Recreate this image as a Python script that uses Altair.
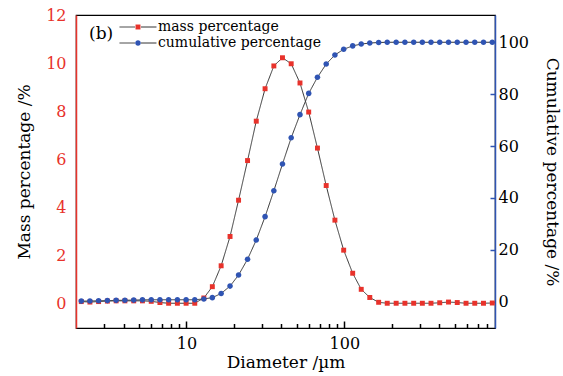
import altair as alt
import pandas as pd

# ---------------- data ----------------
diameter = [2.16, 2.45, 2.78, 3.16, 3.59, 4.08, 4.64, 5.27, 5.99, 6.80,
            7.72, 8.77, 9.96, 11.3, 12.9, 14.6, 16.6, 18.9, 21.4, 24.4,
            27.7, 31.5, 35.8, 40.6, 46.1, 52.4, 59.5, 67.6, 76.8, 87.2,
            99.1, 113, 128, 145, 165, 187, 213, 242, 275, 312,
            354, 402, 457, 519, 590, 670, 761, 865]

mass_pct = [0.07, 0.05, 0.07, 0.09, 0.10, 0.10, 0.10, 0.10, 0.08, 0.03,
            0.00, 0.00, 0.00, 0.00, 0.22, 0.69, 1.56, 2.78, 4.29, 5.94,
            7.58, 8.93, 9.88, 10.22, 9.97, 9.17, 7.96, 6.46, 4.90, 3.46,
            2.21, 1.25, 0.58, 0.24, 0.04, 0.00, 0.00, 0.00, 0.00, 0.00,
            0.00, 0.02, 0.05, 0.03, 0.00, 0.00, 0.00, 0.01]

cum_pct = [0.27, 0.30, 0.40, 0.45, 0.55, 0.60, 0.65, 0.75, 0.78, 0.78,
           0.78, 0.78, 0.78, 0.78, 1.10, 1.60, 3.20, 6.05, 10.3, 16.4,
           23.8, 32.8, 42.8, 53.1, 63.2, 72.1, 80.3, 86.5, 91.6, 95.1,
           97.3, 98.6, 99.3, 99.7, 99.9, 100, 100, 100, 100, 100,
           100, 100, 100, 100, 100, 100, 100, 100]

series_names = ["mass percentage", "cumulative percentage"]
x_major = [10, 100]
x_minor = [3, 4, 5, 6, 7, 8, 9, 20, 30, 40, 50, 60, 70, 80, 90,
           200, 300, 400, 500, 600, 700, 800]
left_ticks = [0, 2, 4, 6, 8, 10, 12]
right_ticks = [0, 20, 40, 60, 80, 100]

# ---------------- styling ----------------
RED = "#e8322b"
BLUE = "#2f54b3"
LINE_C = "#333333"
FONT = "DejaVu Serif"
W, H = 419, 313

SQUARE = "M-0.3,-0.3H0.3V0.3H-0.3Z"
CIRCLE = "M0.34,0A0.34,0.34 0 1,1 -0.34,0A0.34,0.34 0 1,1 0.34,0Z"
LSEG = "M-2.24,0H-0.36M0.36,0H2.24"
PSIZE = 272

mass_df = pd.DataFrame({"d": diameter, "v": mass_pct, "series": series_names[0]})
cum_df = pd.DataFrame({"d": diameter, "v": cum_pct, "series": series_names[1]})
mass_df["series_l"] = mass_df["series"]
cum_df["series_l"] = cum_df["series"]

x_scale = alt.Scale(type="log", domain=[2, 900], nice=False)
yl_scale = alt.Scale(domain=[-1.03, 12], nice=False, zero=False)
yr_scale = alt.Scale(domain=[-10.1, 110.5], nice=False, zero=False)

# x axes: labels at the bottom; inward ticks come from top-oriented axes moved down
axis_x_labels = alt.Axis(values=x_major, format="d", ticks=False, tickSize=0,
                         orient="bottom", domainColor="black", domainWidth=1.2,
                         labelFontSize=16, labelPadding=7, labelColor="black",
                         titleFontSize=17, titlePadding=3, titleFontWeight="normal",
                         titleColor="black", grid=False)
axis_x_major = alt.Axis(values=x_major, orient="top", offset=-H, tickSize=7,
                        tickColor="black", tickWidth=1.5, labelOpacity=0,
                        domain=False, title=None, grid=False)
axis_x_minor = alt.Axis(values=x_minor, orient="top", offset=-H, tickSize=4.5,
                        tickColor="black", tickWidth=1.5, labelOpacity=0,
                        domain=False, title=None, grid=False)

axis_yl = alt.Axis(values=left_ticks, orient="left", ticks=False, tickSize=0,
                   domainColor=RED, domainWidth=1.5, labelColor=RED,
                   labelFontSize=16, labelPadding=10, grid=False,
                   titleFontSize=17, titleFontWeight="normal", titleColor="black",
                   titlePadding=12)
axis_yr_labels = alt.Axis(values=right_ticks, orient="right", ticks=False, tickSize=0,
                          domainColor=BLUE, domainWidth=1.5,
                          labelColor="black", labelFontSize=16, labelPadding=3,
                          grid=False, titleFontSize=17, titleFontWeight="normal",
                          titleColor="black", titlePadding=14)
axis_yr_ticks = alt.Axis(values=right_ticks, orient="left", offset=-W, tickSize=5,
                         tickColor=BLUE, tickWidth=1.5, labelOpacity=0,
                         domain=False, title=None, grid=False)

leg_common = dict(orient="none", legendX=13, legendY=3, direction="vertical",
                  title="(b)", titleOrient="left", titleAnchor="middle",
                  titleBaseline="middle", titleFontSize=17, titleFontWeight="normal",
                  titleColor="black", titlePadding=15, padding=0, rowPadding=0,
                  labelFontSize=14, labelOffset=11, labelColor="black",
                  labelLimit=400, symbolSize=PSIZE)
leg_pts = alt.Legend(symbolStrokeWidth=1, symbolStrokeColor="transparent", **leg_common)
leg_lines = alt.Legend(symbolType=LSEG, symbolStrokeWidth=1, symbolStrokeColor=LINE_C,
                       labelOpacity=0, titleOpacity=0, **leg_common)

color_enc = alt.Color("series:N", scale=alt.Scale(domain=series_names, range=[RED, BLUE]),
                      legend=leg_pts)
shape_enc = alt.Shape("series:N", scale=alt.Scale(domain=series_names, range=[SQUARE, CIRCLE]),
                      legend=leg_pts)
dash_enc = alt.StrokeDash("series_l:N", sort=series_names,
                          scale=alt.Scale(range=[[1, 0], [1, 0]]),
                          legend=leg_lines)

mass_line = alt.Chart(mass_df).mark_line(color=LINE_C, strokeWidth=1).encode(
    x=alt.X("d:Q", scale=x_scale, axis=axis_x_labels, title="Diameter /µm"),
    y=alt.Y("v:Q", scale=yl_scale, axis=axis_yl, title="Mass percentage /%"),
    strokeDash=dash_enc, order="d:Q")
mass_pts = alt.Chart(mass_df).mark_point(filled=True, size=PSIZE, opacity=1).encode(
    x=alt.X("d:Q", scale=x_scale, axis=axis_x_major),
    y=alt.Y("v:Q", scale=yl_scale, axis=axis_yl, title="Mass percentage /%"),
    color=color_enc, shape=shape_enc)
cum_line = alt.Chart(cum_df).mark_line(color=LINE_C, strokeWidth=1).encode(
    x=alt.X("d:Q", scale=x_scale, axis=axis_x_minor),
    y=alt.Y("v:Q", scale=yr_scale, axis=axis_yr_labels, title="Cumulative percentage /%"),
    strokeDash=dash_enc, order="d:Q")
cum_pts = alt.Chart(cum_df).mark_point(filled=True, size=PSIZE, opacity=1).encode(
    x=alt.X("d:Q", scale=x_scale, axis=None),
    y=alt.Y("v:Q", scale=yr_scale, axis=axis_yr_ticks),
    color=color_enc, shape=shape_enc)

left = alt.layer(mass_line, mass_pts).resolve_axis(x="independent")
right = alt.layer(cum_line, cum_pts).resolve_axis(x="independent", y="independent")

chart = (
    alt.layer(left, right)
    .resolve_scale(y="independent")
    .resolve_axis(x="independent", y="independent")
    .properties(width=W, height=H,
                padding={"left": 76, "top": 15, "right": 68, "bottom": 48},
                autosize=alt.AutoSizeParams(type="none"))
    .configure(font=FONT)
    .configure_view(stroke="black", strokeWidth=1.2)
    .configure_axis(labelFont=FONT, titleFont=FONT)
    .configure_legend(labelFont=FONT, titleFont=FONT)
)

chart.save("out.html", embed_options={"renderer": "svg", "actions": False})
